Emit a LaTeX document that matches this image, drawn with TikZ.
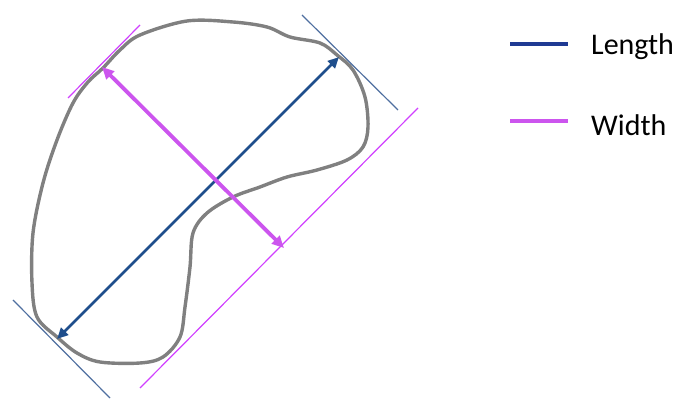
\documentclass[tikz,border=0pt]{standalone}
\usepackage{fontspec}
\setmainfont{Carlito}
\usetikzlibrary{arrows.meta}
\definecolor{outl}{HTML}{808080}
\definecolor{lenblue}{HTML}{1F4E8C}
\definecolor{legblue}{HTML}{1F3A93}
\definecolor{tanblue}{HTML}{4F6FA0}
\definecolor{wmag}{HTML}{CC55EE}
\definecolor{tanmag}{HTML}{D040FF}
\tikzset{
  outline/.style={draw=outl, line width=3.4pt, line join=round},
  lenarrow/.style={draw=lenblue, line width=2.8pt, {Triangle[length=11pt,width=10pt]}-{Triangle[length=11pt,width=10pt]}},
  widarrow/.style={draw=wmag, line width=3.8pt, {Triangle[length=12pt,width=11pt]}-{Triangle[length=12pt,width=11pt]}},
  tanb/.style={draw=tanblue, line width=1.2pt},
  tanm/.style={draw=tanmag, line width=1.2pt},
  legtext/.style={anchor=west, font=\fontsize{30}{33}\selectfont, text=black, inner sep=0pt}
}
\begin{document}
\begin{tikzpicture}[x=1pt,y=-1pt]
\useasboundingbox (0,0) rectangle (680,403);
% outline shape
\draw[outline] plot[smooth cycle, tension=0.55] coordinates {
 (103,68) (120,50) (140,35) (187,21) (233,22) (267,27) (290,37) (320,43) (337,55)
 (353,70) (365,97) (368,127) (363,147) (347,160) (317,170) (287,177) (260,187)
 (233,197) (207,213) (193,233) (190,267) (185,307) (180,337) (163,357) (140,363)
 (100,362) (77,353) (57,337) (37,317) (32,283) (33,233) (43,183) (57,140) (73,103) (88,82)};
% tangent lines
\coordinate (tb1a) at (302,15); \coordinate (tb1b) at (398,110);
\coordinate (tb2a) at (13,300); \coordinate (tb2b) at (110,398);
\coordinate (tm1a) at (68,98);  \coordinate (tm1b) at (140,25);
\coordinate (tm2a) at (140,388); \coordinate (tm2b) at (418,108);
\draw[tanb] (tb1a) -- (tb1b);
\draw[tanb] (tb2a) -- (tb2b);
\draw[tanm] (tm1a) -- (tm1b);
\draw[tanm] (tm2a) -- (tm2b);
% arrows
\coordinate (lA) at (339,57); \coordinate (lB) at (57,339);
\coordinate (wA) at (102,67); \coordinate (wB) at (284,248);
\draw[lenarrow] (lB) -- (lA);
\draw[widarrow] (wA) -- (wB);
% legend
\coordinate (l1a) at (510,44); \coordinate (l1b) at (568,44);
\coordinate (l2a) at (510,121); \coordinate (l2b) at (568,121);
\draw[draw=legblue, line width=3.6pt] (l1a) -- (l1b);
\draw[draw=wmag, line width=4.2pt] (l2a) -- (l2b);
\node[legtext] (lenlab) at (591,47) {Length};
\node[legtext] (widlab) at (591,125) {Width};
\end{tikzpicture}
\end{document}
